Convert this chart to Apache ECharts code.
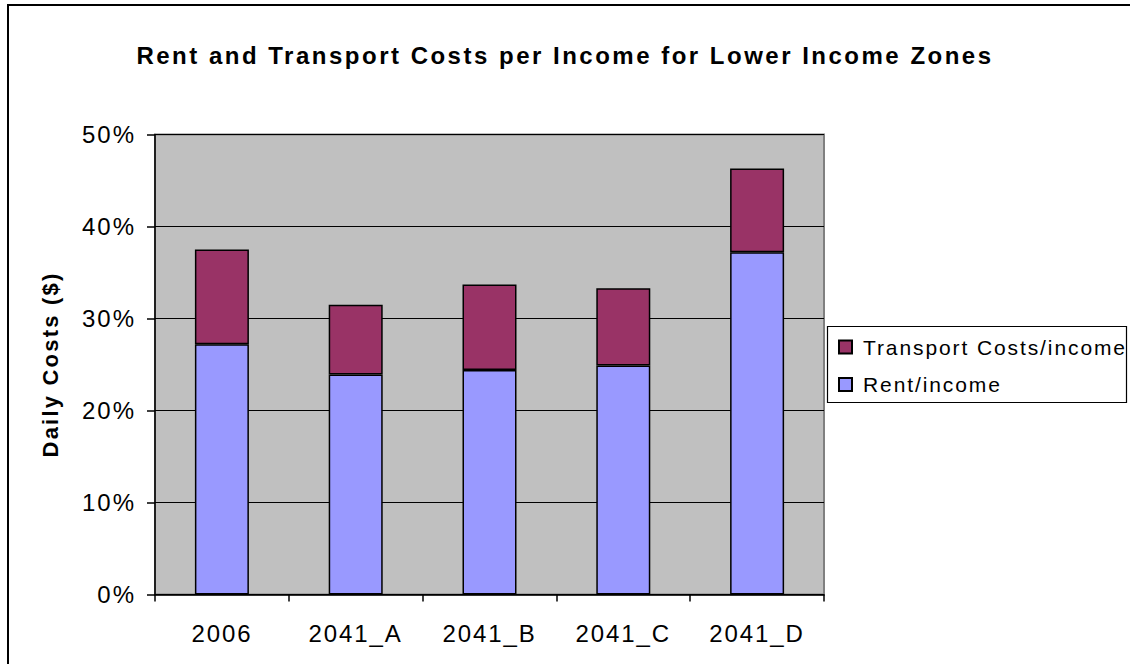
<!DOCTYPE html>
<html>
<head>
<meta charset="utf-8">
<script src="https://cdn.jsdelivr.net/npm/echarts@6/dist/echarts.min.js"></script>
<style>
  html, body { margin: 0; padding: 0; background: #ffffff; }
  #chart { width: 1130px; height: 664px; }
</style>
</head>
<body>
<div id="chart"></div>
<script>
// Scenario names along the x axis
const categories = ['2006', '2041_A', '2041_B', '2041_C', '2041_D'];
// Share of income spent on rent (lower segment of each stack)
const rentShare = [0.272, 0.239, 0.244, 0.249, 0.372];
// Share of income spent on transport (upper segment of each stack)
const transportShare = [0.103, 0.076, 0.093, 0.084, 0.091];
// Value axis ticks
const yTicks = [0, 0.1, 0.2, 0.3, 0.4, 0.5];

const titleText = 'Rent and Transport Costs per Income for Lower Income Zones';
const yAxisName = 'Daily Costs ($)';
const rentName = 'Rent/income';
const transportName = 'Transport Costs/income';

const FONT = '"Liberation Sans", Arial, Helvetica, sans-serif';

const chart = echarts.init(document.getElementById('chart'), null, { renderer: 'svg' });

const option = {
  animation: false,
  backgroundColor: '#ffffff',
  title: {
    text: titleText,
    left: 'center',
    top: 38,
    textStyle: { fontFamily: FONT, fontSize: 24, fontWeight: 'bold', color: '#000' }
  },
  grid: {
    left: 155,
    top: 134.5,
    width: 669,
    height: 460,
    show: true,
    backgroundColor: '#c0c0c0',
    borderColor: '#808080',
    borderWidth: 2
  },
  legend: {
    orient: 'vertical',
    left: 838,
    top: 336.5,
    padding: 0,
    itemGap: 16.5,
    itemWidth: 13,
    itemHeight: 13,
    icon: 'rect',
    selectedMode: false,
    data: [transportName, rentName],
    textStyle: { fontFamily: FONT, fontSize: 21, color: '#000', lineHeight: 20, padding: [0, 0, 0, 6] }
  },
  xAxis: {
    type: 'category',
    data: categories,
    axisLine: { lineStyle: { color: '#000', width: 1.5 } },
    axisTick: { show: true, length: 7, lineStyle: { color: '#000', width: 1.5 } },
    axisLabel: { fontFamily: FONT, fontSize: 24, color: '#000', margin: 27 }
  },
  yAxis: {
    type: 'value',
    min: yTicks[0],
    max: yTicks[yTicks.length - 1],
    interval: yTicks[1] - yTicks[0],
    name: yAxisName,
    nameLocation: 'middle',
    nameRotate: 90,
    nameGap: 94,
    nameTextStyle: { fontFamily: FONT, fontSize: 22, fontWeight: 'bold', color: '#000' },
    axisLine: { show: true, lineStyle: { color: '#000', width: 1.5 } },
    axisTick: { show: true, length: 8, lineStyle: { color: '#000', width: 1.5 } },
    axisLabel: {
      fontFamily: FONT, fontSize: 24, color: '#000', margin: 19,
      formatter: v => Math.round(v * 100) + '%'
    },
    splitLine: { show: true, lineStyle: { color: '#000', width: 1.2 } }
  },
  series: [
    {
      name: rentName,
      type: 'bar',
      stack: 'share',
      barWidth: 54,
      data: rentShare,
      silent: true,
      itemStyle: { color: '#9999ff', borderColor: '#000', borderWidth: 1.5 }
    },
    {
      name: transportName,
      type: 'bar',
      stack: 'share',
      barWidth: 54,
      data: transportShare,
      silent: true,
      itemStyle: { color: '#993366', borderColor: '#000', borderWidth: 1.5 }
    }
  ],
  graphic: [
    // outer chart frame
    { type: 'rect', z: 0, silent: true,
      shape: { x: 8, y: 5, width: 1200, height: 700 },
      style: { fill: 'none', stroke: '#000', lineWidth: 2 } },
    // legend box
    { type: 'rect', z: 1, silent: true,
      shape: { x: 827.5, y: 326.5, width: 299, height: 76 },
      style: { fill: '#ffffff', stroke: '#000', lineWidth: 1.2 } }
  ]
};

chart.setOption(option);

// Widen the tracking of each text group
function spaceText() {
  chart.getDom().querySelectorAll('text').forEach(el => {
    const s = el.textContent;
    let ls = 0;
    if (s === titleText) ls = 2.5;
    else if (/%$/.test(s)) ls = 2;
    else if (categories.indexOf(s) >= 0) ls = 1.9;
    else if (s === yAxisName) ls = 2.2;
    else if (s === rentName || s === transportName) ls = 1.9;
    el.style.letterSpacing = ls + 'px';
  });
}
chart.on('finished', spaceText);
requestAnimationFrame(() => requestAnimationFrame(spaceText));
setTimeout(spaceText, 50);
</script>
</body>
</html>
